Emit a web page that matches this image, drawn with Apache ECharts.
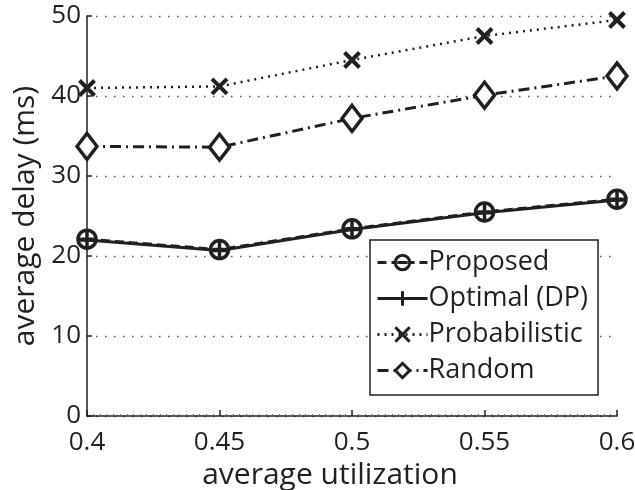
<!DOCTYPE html>
<html>
<head>
<meta charset="utf-8">
<script src="https://cdn.jsdelivr.net/npm/echarts@6/dist/echarts.min.js"></script>
<style>
  html, body { margin: 0; padding: 0; background: #fff; }
  #chart { width: 635px; height: 490px; }
</style>
</head>
<body>
<div id="chart"></div>
<script>
// valeurs
const utilization = [0.4, 0.45, 0.5, 0.55, 0.6];
const proposed = [22.1, 20.8, 23.4, 25.5, 27.1];
const optimal = [22.0, 20.7, 23.3, 25.4, 27.0];
const probabilistic = [41.0, 41.2, 44.5, 47.5, 49.5];
const randomSel = [33.7, 33.6, 37.2, 40.1, 42.5];
const seriesNames = ['Proposed', 'Optimal (DP)', 'Probabilistic', 'Random'];

const FONT = '"Open Sans", sans-serif';
const INK = '#231f20';

const circleMinus = 'path://M10,1A9,9 0 1,1 9.99,1Z M3.5,10L16.5,10';
const plus = 'path://M10,0L10,20M0,10L20,10';
const cross = 'path://M0,0L10,10M10,0L0,10';

function pairs(values) {
  return utilization.map((u, i) => [u, values[i]]);
}

const chart = echarts.init(document.getElementById('chart'), null, { renderer: 'canvas' });

const option = {
  animation: false,
  textStyle: { fontFamily: FONT, color: INK },
  grid: { left: 87, right: 18, top: 16, bottom: 74, outerBoundsMode: 'none', containLabel: false },
  xAxis: {
    type: 'value',
    min: 0.4,
    max: 0.6,
    interval: 0.05,
    name: 'average utilization',
    nameLocation: 'middle',
    nameGap: 41,
    nameTextStyle: { fontSize: 30, color: INK, fontFamily: FONT, padding: [0, 44, 0, 0] },
    axisLine: { lineStyle: { color: INK, width: 1.5 } },
    axisTick: { inside: true, length: 6, lineStyle: { color: INK, width: 1.5 } },
    minorTick: { show: true, splitNumber: 20, length: 2, lineStyle: { color: '#666', width: 1 } },
    axisLabel: { fontSize: 26, color: INK, fontFamily: FONT, margin: 14 },
    splitLine: { show: false }
  },
  yAxis: {
    type: 'value',
    min: 0,
    max: 50,
    interval: 10,
    name: 'average delay (ms)',
    nameLocation: 'middle',
    nameGap: 46,
    nameTextStyle: { fontSize: 30, color: INK, fontFamily: FONT },
    axisLine: { show: true, lineStyle: { color: INK, width: 1.5 } },
    axisTick: { show: true, inside: true, length: 5, lineStyle: { color: INK, width: 1.5 } },
    axisLabel: { fontSize: 26, color: INK, fontFamily: FONT, margin: 6 },
    splitLine: { show: true, lineStyle: { color: '#555', width: 1.3, type: [1.5, 7.5] } }
  },
  legend: {
    orient: 'vertical',
    left: 370,
    top: 240,
    padding: [9, 10, 11, 6],
    itemGap: 9,
    itemWidth: 50,
    itemHeight: 18,
    backgroundColor: '#fff',
    borderColor: INK,
    borderWidth: 1.5,
    borderRadius: 0,
    lineStyle: { width: 3 },
    itemStyle: { borderWidth: 3 },
    textStyle: { fontSize: 27, color: INK, fontFamily: FONT, padding: [0, 0, 0, -4] },
    data: seriesNames
  },
  series: [
    {
      name: seriesNames[0],
      type: 'line',
      data: pairs(proposed),
      symbol: circleMinus,
      symbolSize: 18,
      lineStyle: { color: INK, width: 3, type: [9, 5] },
      itemStyle: { color: '#fff', borderColor: INK, borderWidth: 3.5 },
      z: 3
    },
    {
      name: seriesNames[1],
      type: 'line',
      data: pairs(optimal),
      symbol: plus,
      symbolSize: 18,
      lineStyle: { color: INK, width: 3, type: 'solid' },
      itemStyle: { color: INK, borderColor: INK, borderWidth: 3.5 },
      z: 4
    },
    {
      name: seriesNames[2],
      type: 'line',
      data: pairs(probabilistic),
      symbol: cross,
      symbolSize: 15,
      lineStyle: { color: INK, width: 2.5, type: [2, 5] },
      itemStyle: { color: INK, borderColor: INK, borderWidth: 4 },
      z: 3
    },
    {
      name: seriesNames[3],
      type: 'line',
      data: pairs(randomSel),
      symbol: 'diamond',
      symbolSize: [20, 26],
      lineStyle: { color: INK, width: 3, type: [11, 5, 2, 5] },
      itemStyle: { color: '#fff', borderColor: INK, borderWidth: 3.5 },
      z: 3
    }
  ]
};

chart.setOption(option);
window.addEventListener('resize', chart.resize);
</script>
</body>
</html>
